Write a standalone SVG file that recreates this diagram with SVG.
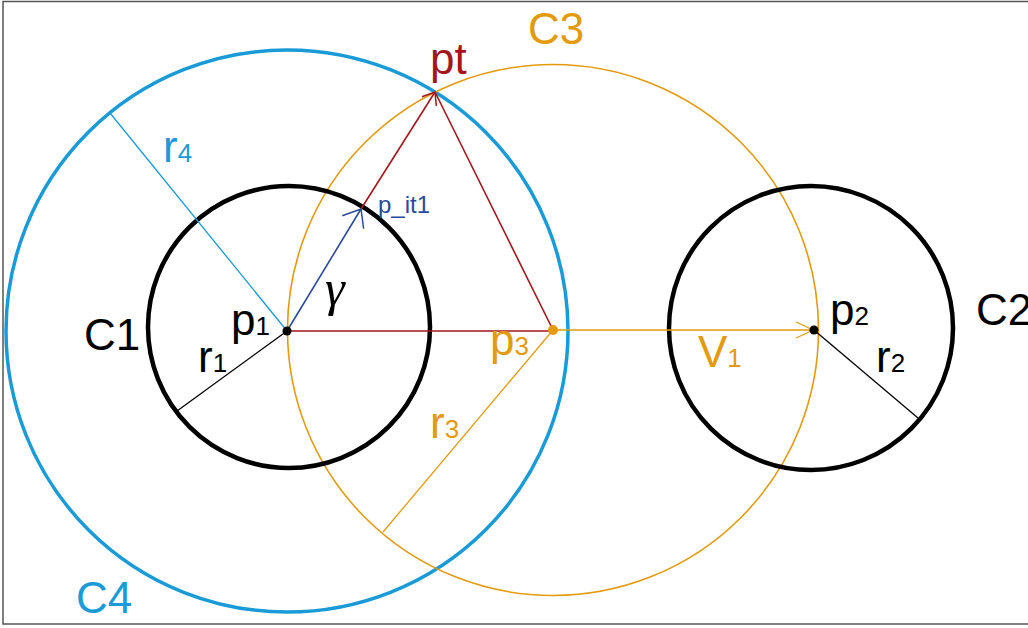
<svg xmlns="http://www.w3.org/2000/svg" width="1028" height="628" viewBox="0 0 1028 628">
<style>
text{font-family:"Liberation Sans",Arial,sans-serif;font-size:44px}
.sub{font-size:26px}
.blk{fill:#000}
.org{fill:#e39a0d}
.blu{fill:#1a9bd7}
.red{fill:#a3161d}
.nav{fill:#2c4a9c}
.thin{fill:none;stroke-width:1.3}
</style>
<defs>
<marker id="mNav" markerUnits="userSpaceOnUse" orient="auto" markerWidth="40" markerHeight="40" refX="0" refY="0" viewBox="-20 -20 40 40" overflow="visible">
<path d="M-15.5,-12.5 L0,0 L-15.5,12.5" fill="none" stroke="#2c4a9c" stroke-width="1.5"/>
</marker>
<marker id="mRed" markerUnits="userSpaceOnUse" orient="auto" markerWidth="40" markerHeight="40" refX="0" refY="0" viewBox="-20 -20 40 40" overflow="visible">
<path d="M-11,-8.5 L0,0 L-11,8.5" fill="none" stroke="#a3161d" stroke-width="1.5"/>
</marker>
<marker id="mOrg" markerUnits="userSpaceOnUse" orient="auto" markerWidth="40" markerHeight="40" refX="0" refY="0" viewBox="-25 -20 50 40" overflow="visible">
<path d="M-21,-10 L0,0 L-21,10" fill="none" stroke="#e39a0d" stroke-width="1.5"/>
</marker>
</defs>
<rect x="3" y="1.5" width="1040" height="622.5" fill="#fff" stroke="#555" stroke-width="1.5"/>

<g id="C4">
<circle cx="287" cy="331" r="281" fill="none" stroke="#1a9bd7" stroke-width="3.5"/>
<text class="blu" x="76" y="613">C4</text>
</g>
<g id="C3">
<circle cx="553" cy="330" r="265.5" fill="none" stroke="#e39a0d" stroke-width="1.6"/>
<text class="org" x="528" y="44">C3</text>
</g>
<g id="C1">
<circle cx="289" cy="327" r="141" fill="none" stroke="#000" stroke-width="4.5"/>
<text class="blk" x="84" y="350">C1</text>
</g>
<g id="C2">
<circle cx="811" cy="328" r="142" fill="none" stroke="#000" stroke-width="4.5"/>
<text class="blk" x="976" y="325">C2</text>
</g>

<g id="connectors">
<line class="thin" x1="287" y1="331" x2="110" y2="113" stroke="#1a9bd7"/>
<line class="thin" x1="287" y1="331" x2="177" y2="411" stroke="#000"/>
<line class="thin" x1="814" y1="330" x2="918" y2="418" stroke="#000"/>
<line class="thin" x1="553" y1="330" x2="383" y2="532" stroke="#e39a0d" stroke-width="1.6"/>
<line x1="553" y1="330" x2="813" y2="330" stroke="#e39a0d" stroke-width="1.6" marker-end="url(#mOrg)"/>
<line x1="287" y1="331" x2="553" y2="331" stroke="#a3161d" stroke-width="1.6"/>
<line x1="553" y1="330" x2="435" y2="92" stroke="#a3161d" stroke-width="1.6"/>
<line x1="361" y1="209" x2="435" y2="92" stroke="#a3161d" stroke-width="1.6" marker-end="url(#mRed)"/>
<line x1="287" y1="331" x2="361" y2="209" stroke="#2c4a9c" stroke-width="1.6" marker-end="url(#mNav)"/>
</g>

<g id="p1">
<circle cx="287" cy="331" r="4.5" fill="#000"/>
<text class="blk" x="231" y="335">p<tspan class="sub">1</tspan></text>
</g>
<g id="p3">
<circle cx="553" cy="330" r="5" fill="#e39a0d"/>
<text class="org" x="490" y="355">p<tspan class="sub">3</tspan></text>
</g>
<g id="p2">
<circle cx="814" cy="330" r="4.5" fill="#000"/>
<text class="blk" x="830" y="325">p<tspan class="sub">2</tspan></text>
</g>
<g id="pt">
<text class="red" x="430" y="74">pt</text>
</g>
<g id="p_it1">
<text class="nav" x="378" y="213" style="font-size:24px">p_it1</text>
</g>
<g id="labels">
<text class="blu" x="163" y="162">r<tspan class="sub">4</tspan></text>
<text class="blk" x="198" y="372">r<tspan class="sub">1</tspan></text>
<text class="org" x="430" y="438">r<tspan class="sub">3</tspan></text>
<text class="blk" x="876" y="372">r<tspan class="sub">2</tspan></text>
<text class="org" x="698" y="367">V<tspan class="sub">1</tspan></text>
<text class="blk" x="325" y="305" style="font-family:'Liberation Serif',serif;font-style:italic;font-size:50px">γ</text>
</g>
</svg>
